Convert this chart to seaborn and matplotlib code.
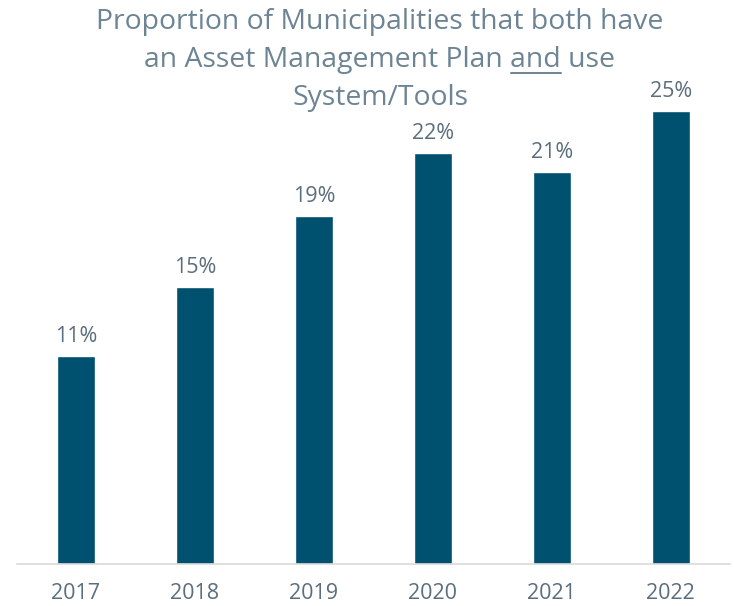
import matplotlib
matplotlib.use("Agg")
import matplotlib.pyplot as plt
import seaborn as sns
import pandas as pd
from matplotlib.lines import Line2D

years = ["2017", "2018", "2019", "2020", "2021", "2022"]
values = [11.24, 14.99, 18.81, 22.23, 21.17, 24.49]
labels = ["11%", "15%", "19%", "22%", "21%", "25%"]
title_lines = ["Proportion of Municipalities that both have",
               "an Asset Management Plan and use",
               "System/Tools"]
underlined = "and"

sns.set_style("white")
plt.rcParams["font.family"] = ["Open Sans", "DejaVu Sans"]

bar_color = "#00506F"
text_color = "#5B6E7D"
title_color = "#6C8494"

df = pd.DataFrame({"year": years, "value": values})

fig = plt.figure(figsize=(7.34, 6.06), dpi=100)
ax = fig.add_axes([0.0225, 0.0693, 0.9725, 0.9307])
sns.barplot(data=df, x="year", y="value", color=bar_color, width=0.32,
            saturation=1, ax=ax)
ax.set_ylim(0, 30.49)
ax.bar_label(ax.containers[0], labels=labels, padding=6.5, fontsize=15.5,
             color=text_color)
ax.set_xlabel("")
ax.set_ylabel("")
ax.set_yticks([])
for s in ["top", "right", "left"]:
    ax.spines[s].set_visible(False)
ax.spines["bottom"].set_color("#D9D9D9")
ax.spines["bottom"].set_linewidth(1.2)
ax.tick_params(axis="x", length=0, pad=14, labelsize=15.5, labelcolor=text_color)

title_fs = 20.4
line_px = 38
top_px = 29
renderer = fig.canvas.get_renderer()
for i, line in enumerate(title_lines):
    ypix = top_px + i * line_px
    t = fig.text(380 / 734, 1 - ypix / 606, line, ha="center", va="baseline",
                 fontsize=title_fs, color=title_color)
    if underlined in line.split():
        bb = t.get_window_extent(renderer)
        pre = line[: line.index(" " + underlined + " ") + 1 + len(underlined)]
        tmp = fig.text(0, 0, pre, fontsize=title_fs)
        w_pre = tmp.get_window_extent(renderer).width
        tmp.remove()
        tmp = fig.text(0, 0, underlined, fontsize=title_fs)
        w_and = tmp.get_window_extent(renderer).width
        tmp.remove()
        x1 = bb.x0 + w_pre
        x0 = x1 - w_and
        yl = 606 - ypix - 6
        fig.add_artist(Line2D([x0 / 734, x1 / 734], [yl / 606, yl / 606],
                              transform=fig.transFigure, color=title_color,
                              linewidth=1.4))

fig.savefig("out.png", dpi=100)
